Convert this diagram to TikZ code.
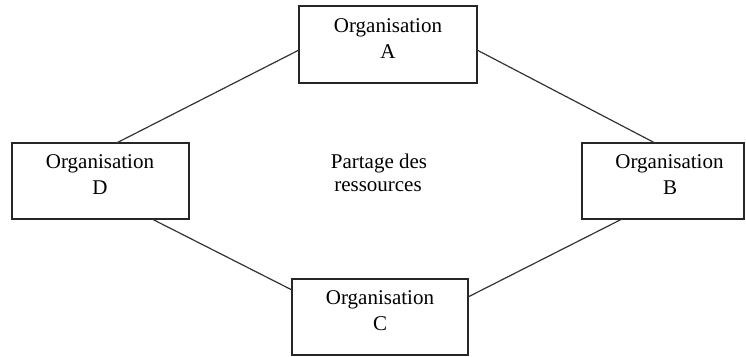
\documentclass[tikz,border=0pt]{standalone}
\usepackage{fontspec}
\setmainfont{Liberation Serif}
\begin{document}
\begin{tikzpicture}[x=1pt,y=-1pt,
  orgbox/.style={draw=black!85, line width=1.3pt, inner sep=0pt, outer sep=0pt},
  lbl/.style={anchor=base, inner sep=0pt, font=\fontsize{21}{25}\selectfont},
  link/.style={draw=black!80, line width=1.2pt}]
\useasboundingbox (0,0) rectangle (746,356);

% the four organisations
\node[orgbox, minimum width=178pt, minimum height=77pt] (a) at (388,44.5) {};
\node[orgbox, minimum width=177pt, minimum height=76pt] (d) at (100.5,181) {};
\node[orgbox, minimum width=162pt, minimum height=76pt] (b) at (663,181) {};
\node[orgbox, minimum width=176pt, minimum height=76pt] (c) at (380,317) {};

% box captions
\node[lbl] (a1) at (388,32) {Organisation};
\node[lbl] (a2) at (388,58) {A};
\node[lbl] (d1) at (100,168) {Organisation};
\node[lbl] (d2) at (100,194) {D};
\node[lbl] (b1) at (669.5,168) {Organisation};
\node[lbl] (b2) at (670,194) {B};
\node[lbl] (c1) at (380,304) {Organisation};
\node[lbl] (c2) at (380,330) {C};

% central caption
\node[lbl] (p1) at (379,168) {Partage des};
\node[lbl] (p2) at (378,191.5) {ressources};

% links forming the ring
\draw[link] ([yshift=-5.5pt]a.west) -- ([xshift=16pt]d.north);
\draw[link] ([yshift=-5.5pt]a.east) -- ([xshift=-8pt]b.north);
\draw[link] ([xshift=51.5pt]d.south) -- ([yshift=27pt]c.west);
\draw[link] ([yshift=20pt]c.east) -- ([xshift=-41pt]b.south);
\end{tikzpicture}
\end{document}
